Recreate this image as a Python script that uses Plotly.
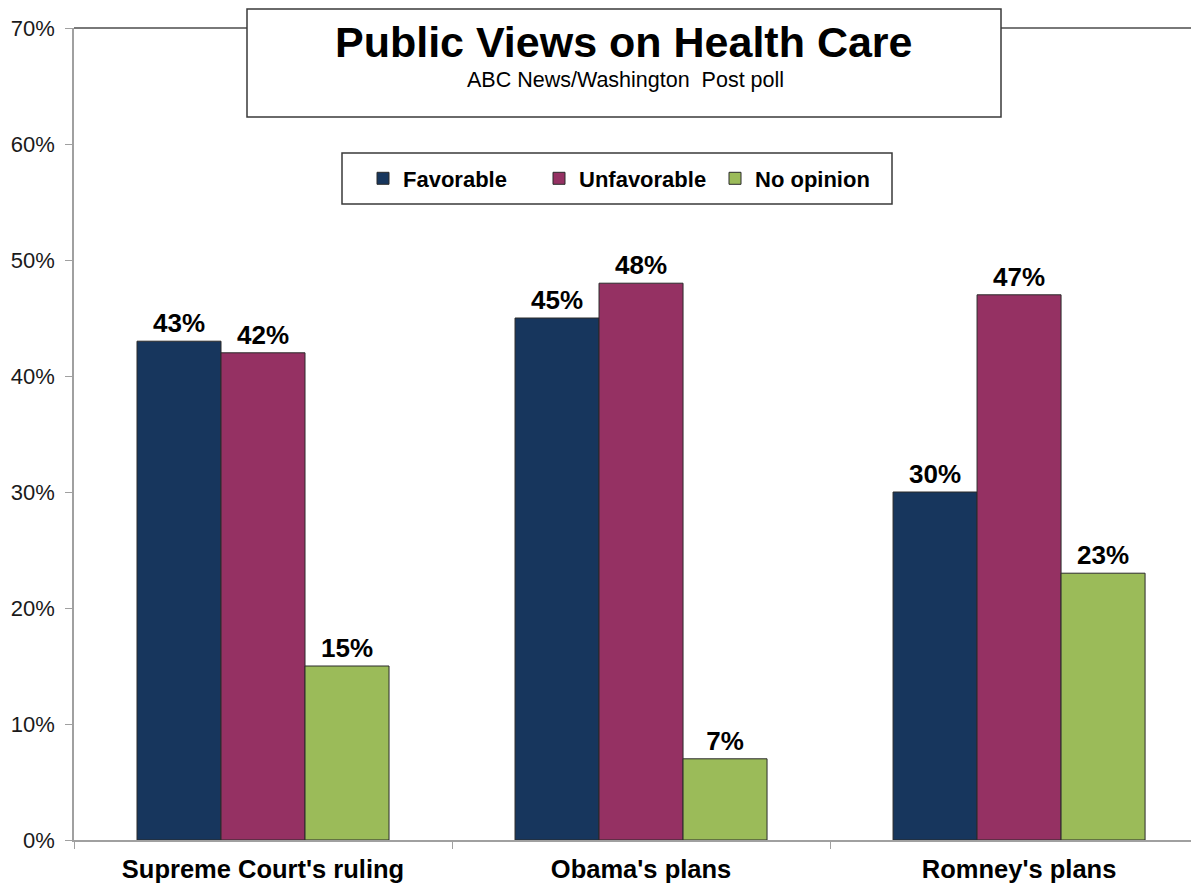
import plotly.graph_objects as go

categories = ["Supreme Court's ruling", "Obama's plans", "Romney's plans"]
series_names = ["Favorable", "Unfavorable", "No opinion"]
favorable = [43, 45, 30]
unfavorable = [42, 48, 47]
no_opinion = [15, 7, 23]
colors = ["#17365D", "#953163", "#9BBB59"]

FONT = "Liberation Sans, Arial, sans-serif"

fig = go.Figure()
for name, vals, col in zip(series_names, [favorable, unfavorable, no_opinion], colors):
    fig.add_trace(go.Bar(
        x=categories, y=vals, name=name,
        marker=dict(color=col, line=dict(color="#2b2b2b", width=1)),
        text=[f"{v}%" for v in vals], textposition="outside",
        textfont=dict(family=FONT, size=26, color="#000000", weight="bold"),
        cliponaxis=False,
    ))

# page has an 8px body margin; screenshot coords: plot area x 74..1199, y 28..840
OFF = 8
W, H = 1199 - OFF, 884 - OFF
PL, PT, PB = 74, 28, 840
PW = 1199 - PL
PH = PB - PT

def px(x):
    return (x - PL) / PW

def py(y):
    return (PB - y) / PH

shapes = [
    dict(type="line", xref="paper", yref="paper", x0=0, x1=1.02, y0=1, y1=1,
         line=dict(color="#4d4d4d", width=1.5), layer="above"),
    dict(type="rect", xref="paper", yref="paper", x0=px(247), x1=px(1001), y0=py(9), y1=py(117),
         line=dict(color="#3a3a3a", width=1.5), fillcolor="white", layer="above"),
    dict(type="rect", xref="paper", yref="paper", x0=px(342), x1=px(892), y0=py(153), y1=py(204),
         line=dict(color="#3a3a3a", width=1.5), fillcolor="white", layer="below"),
]

annotations = [
    dict(text="Public Views on Health Care", xref="paper", yref="paper", x=px(624), y=py(42),
         xanchor="center", yanchor="middle", showarrow=False,
         font=dict(family=FONT, size=43, color="#000000", weight="bold")),
    dict(text="ABC News/Washington  Post poll", xref="paper", yref="paper", x=px(625), y=py(80),
         xanchor="center", yanchor="middle", showarrow=False,
         font=dict(family=FONT, size=21.5, color="#000000")),
]

fig.update_layout(
    width=W, height=H,
    margin=dict(l=PL - OFF, r=0, t=PT - OFF, b=884 - PB, pad=0),
    paper_bgcolor="white", plot_bgcolor="white",
    barmode="group", bargap=1/3, bargroupgap=0,
    shapes=shapes, annotations=annotations,
    showlegend=True,
    legend=dict(orientation="h", x=px(363), y=py(178.5), xanchor="left", yanchor="middle",
                bgcolor="rgba(0,0,0,0)", borderwidth=0,
                font=dict(family=FONT, size=22, color="#000000", weight="bold"),
                traceorder="normal", entrywidth=131, entrywidthmode="pixels"),
    xaxis=dict(range=[-0.5, 2.476], showline=True, linecolor="#a0a0a0", linewidth=1.5,
               ticks="outside", ticklen=7, tickcolor="#a0a0a0", tickson="boundaries",
               tickfont=dict(family=FONT, size=25.5, color="#000000", weight="bold"),
               showgrid=False, zeroline=False, fixedrange=True, ticklabelstandoff=6),
    yaxis=dict(range=[0, 70], dtick=10, ticksuffix="%", showline=True, linecolor="#a0a0a0",
               linewidth=1.5, ticks="outside", ticklen=7, tickcolor="#a0a0a0",
               tickfont=dict(family=FONT, size=22, color="#1a1a1a"),
               showgrid=False, zeroline=False, fixedrange=True, ticklabelstandoff=6),
)

fig.write_html("out.html")
